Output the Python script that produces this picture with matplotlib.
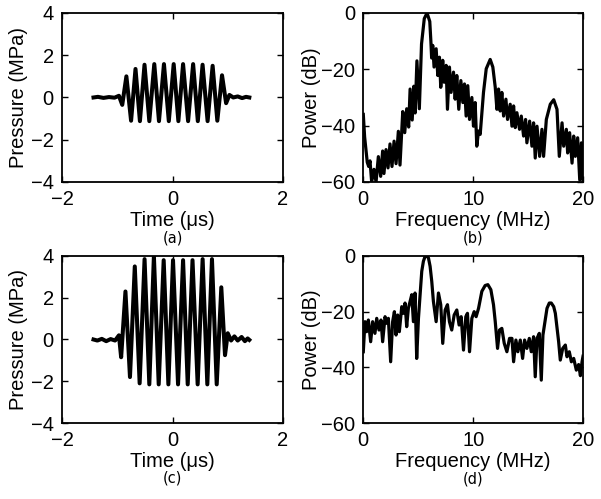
import matplotlib
matplotlib.use("Agg")
import matplotlib.pyplot as plt

plt.rcParams['font.family'] = ['Liberation Sans', 'DejaVu Sans']
plt.rcParams['font.size'] = 14.5

# (a) low amplitude pulse: turning points
time_a = [-1.43, -1.35, -1.25, -1.15, -1.05, -0.97, -0.91, -0.835, -0.75, -0.67, -0.59,
          -0.507, -0.42, -0.33, -0.245, -0.155, -0.067, 0.021, 0.106, 0.191, 0.282,
          0.373, 0.458, 0.544, 0.635, 0.726, 0.811, 0.896, 0.97, 1.03, 1.1, 1.18,
          1.26, 1.33, 1.39]
press_a = [0.0, 0.03, -0.02, 0.02, -0.01, 0.08, -0.35, 1.0, -1.1, 1.35, -1.12,
           1.55, -1.12, 1.58, -1.12, 1.58, -1.12, 1.58, -1.12, 1.58, -1.12,
           1.58, -1.12, 1.55, -1.12, 1.5, -1.1, 1.05, -0.27, 0.12, 0.0, 0.05,
           -0.03, 0.03, 0.0]

# (c) high amplitude pulse
time_c = [-1.43, -1.36, -1.28, -1.2, -1.12, -1.04, -0.97, -0.93, -0.852, -0.77, -0.683,
          -0.595, -0.506, -0.42, -0.337, -0.25, -0.16, -0.075, 0.009, 0.1, 0.191,
          0.275, 0.362, 0.455, 0.545, 0.63, 0.714, 0.8, 0.883, 0.95, 1.0, 1.06,
          1.12, 1.18, 1.25, 1.31, 1.36, 1.39]
press_c = [0.0, -0.05, 0.03, -0.08, 0.02, -0.05, 0.2, -0.85, 2.3, -1.8, 3.5,
           -2.1, 3.85, -2.15, 4.0, -2.15, 3.8, -2.15, 3.8, -2.15, 3.8,
           -2.15, 3.8, -2.15, 3.85, -2.15, 3.85, -2.15, 2.5, -0.75, 0.3, -0.05,
           0.15, -0.05, 0.12, -0.08, 0.05, -0.02]

# (b) spectrum of (a)
freq_b = [0.0, 0.12, 0.36, 0.49, 0.61, 0.76, 0.97, 1.16, 1.37, 1.58, 1.76, 1.88,
          2.07, 2.25, 2.43, 2.61, 2.80, 2.98, 3.19, 3.34, 3.59, 3.77, 3.95, 4.13,
          4.26, 4.45, 4.60, 4.72, 4.88, 5.10, 5.30, 5.55, 5.80, 6.05, 6.15, 6.22,
          6.32, 6.44, 6.63, 6.78, 6.93, 7.05, 7.23, 7.36, 7.54, 7.66, 7.84, 7.99,
          8.21, 8.36, 8.51, 8.69, 8.88, 9.06, 9.21, 9.36, 9.51, 9.67, 9.88, 10.03,
          10.18, 10.33, 10.49, 10.64, 10.94, 11.19, 11.55, 11.79, 12.01, 12.16,
          12.31, 12.46, 12.61, 12.77, 12.98, 13.13, 13.37, 13.53, 13.68, 13.83,
          13.98, 14.22, 14.38, 14.59, 14.77, 14.89, 15.14, 15.35, 15.50, 15.65,
          15.81, 16.05, 16.26, 16.41, 16.66, 17.02, 17.33, 17.63, 17.84, 18.09,
          18.24, 18.48, 18.60, 18.78, 19.00, 19.15, 19.30, 19.51, 19.70, 19.85, 20.0]
power_b = [-36, -44, -53, -54.5, -52.5, -60, -55.5, -60, -51, -58, -49, -57,
           -48.5, -55, -46.5, -54.5, -45.5, -53.5, -42, -54, -35, -42.5, -34, -40.5,
           -27, -38, -26, -35.5, -17, -34, -11, -2, 0, -3, -10, -16,
           -11.5, -19.2, -12.7, -22.2, -15.7, -26.4, -16.8, -24.6, -18.6, -34.2, -19.2, -28.2,
           -21.0, -30.6, -22.2, -34.2, -24.0, -31.8, -25.2, -36.6, -25.8, -37.8, -30.0, -40.2,
           -31.8, -47.3, -41.9, -43.1, -28.2, -19.8, -16.5, -19.2, -26.4, -34.2,
           -27.0, -34.8, -28.2, -36.6, -30.6, -37.8, -32.4, -40.2, -33.0, -40.7,
           -35.4, -41.3, -36.6, -43.7, -37.8, -46.1, -38.4, -47.3, -39.0, -51.5,
           -40.2, -50.9, -41.3, -50.9, -37.8, -32.4, -30.8, -34.2, -50.9, -39.0,
           -47.3, -41.3, -49.7, -42.5, -53.3, -43.7, -50.9, -44.3, -59.3, -46.1, -59.9]

# (d) spectrum of (c)
freq_d = [0.0, 0.15, 0.30, 0.46, 0.67, 0.85, 1.06, 1.22, 1.43, 1.61, 1.76, 1.98,
          2.13, 2.28, 2.49, 2.67, 2.83, 2.98, 3.13, 3.28, 3.50, 3.65, 3.80, 3.95,
          4.10, 4.26, 4.41, 4.56, 4.71, 4.86, 5.02, 5.17, 5.32, 5.47, 5.62, 5.78,
          5.93, 6.08, 6.23, 6.38, 6.63, 6.84, 7.05, 7.23, 7.45, 7.66, 7.84, 8.05,
          8.27, 8.51, 8.72, 8.91, 9.12, 9.33, 9.48, 9.67, 9.88, 10.09, 10.27,
          10.49, 10.79, 11.09, 11.34, 11.61, 11.85, 12.01, 12.22, 12.40, 12.61,
          12.83, 13.07, 13.31, 13.53, 13.68, 13.89, 14.07, 14.29, 14.50, 14.68,
          14.89, 15.11, 15.29, 15.50, 15.65, 15.81, 16.02, 16.20, 16.35,
          16.72, 16.93, 17.11, 17.33, 17.48, 17.78, 17.93, 18.15, 18.39, 18.54,
          18.75, 18.94, 19.15, 19.39, 19.60, 19.76, 19.91, 20.0]
power_d = [-34.4, -23.6, -27.2, -23.0, -30.8, -23.6, -27.8, -22.4, -26.6, -23.0, -30.8, -21.8,
           -24.2, -22.4, -38.0, -23.6, -20.0, -28.4, -21.2, -27.2, -18.2, -20.6, -16.9, -25.4,
           -18.8, -16.3, -13.9, -23.6, -13.3, -36.8, -22.4, -13.9, -5.5, -1.9, -0.2, 0.0,
           -0.7, -3.7, -9.1, -16.3, -23.6, -13.3, -17.5, -31.4, -19.4, -17.5, -23.6, -26.6,
           -21.2, -19.4, -24.8, -21.8, -33.8, -21.8, -20.6, -34.4, -22.4, -20.0, -21.8,
           -18.8, -12.7, -10.6, -10.3, -12.1, -17.5, -23.6, -33.2, -26.6, -26.0,
           -31.4, -34.4, -29.6, -29.6, -38.0, -30.2, -34.4, -30.2, -36.8, -30.2,
           -33.2, -29.6, -34.4, -29.0, -43.4, -29.6, -27.8, -44.6, -28.4,
           -18.8, -16.9, -16.9, -18.2, -20.6, -30.8, -37.4, -33.2, -32.0, -36.2,
           -34.4, -38.0, -36.8, -41.0, -39.0, -43.0, -38.0, -36.0]


def style(ax):
    ax.tick_params(direction='in', top=True, right=True, length=4, width=1.0,
                   pad=6, labelsize=14.5)
    for sp in ax.spines.values():
        sp.set_linewidth(1.3)


fig = plt.figure(figsize=(6.01, 4.99), dpi=100)

ax_a = fig.add_axes([0.1032, 0.6353, 0.3677, 0.3387])
ax_b = fig.add_axes([0.6045, 0.6353, 0.3656, 0.3387])
ax_c = fig.add_axes([0.1032, 0.1523, 0.3677, 0.3347])
ax_d = fig.add_axes([0.6045, 0.1523, 0.3656, 0.3347])

for ax, t, p in [(ax_a, time_a, press_a), (ax_c, time_c, press_c)]:
    ax.plot(t, p, color='k', lw=2.9)
    ax.set_xlim(-2, 2)
    ax.set_ylim(-4, 4)
    ax.set_xticks([-2, 0, 2])
    ax.set_yticks([-4, -2, 0, 2, 4])
    ax.set_xlabel('Time (\u03bcs)', labelpad=1)
    ax.set_ylabel('Pressure (MPa)', labelpad=2)
    style(ax)

for ax, f, pw in [(ax_b, freq_b, power_b), (ax_d, freq_d, power_d)]:
    ax.plot(f, pw, color='k', lw=2.3)
    ax.set_xlim(0, 20)
    ax.set_ylim(-60, 0)
    ax.set_xticks([0, 10, 20])
    ax.set_yticks([-60, -40, -20, 0])
    ax.set_xlabel('Frequency (MHz)', labelpad=1)
    ax.set_ylabel('Power (dB)', labelpad=0)
    style(ax)

fig.text(0.287, 0.523, '(a)', ha='center', va='center', fontsize=10.5, family='DejaVu Sans')
fig.text(0.787, 0.523, '(b)', ha='center', va='center', fontsize=10.5, family='DejaVu Sans')
fig.text(0.287, 0.042, '(c)', ha='center', va='center', fontsize=10.5, family='DejaVu Sans')
fig.text(0.787, 0.040, '(d)', ha='center', va='center', fontsize=10.5, family='DejaVu Sans')

fig.savefig('out.png', dpi=100)
